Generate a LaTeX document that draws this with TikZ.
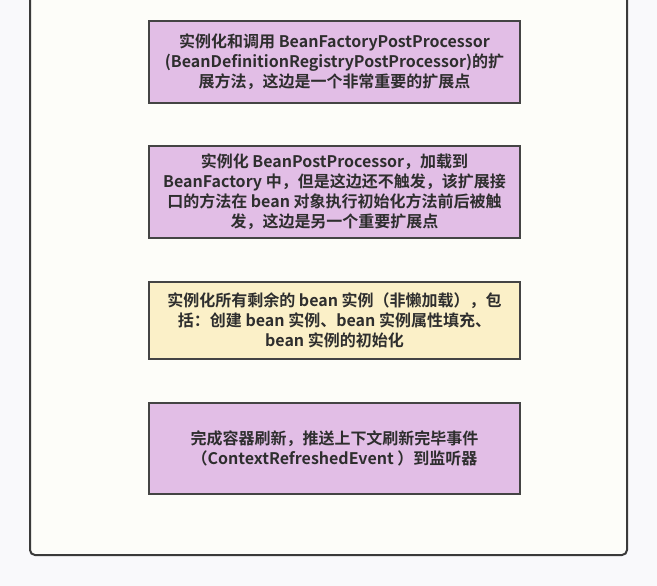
\documentclass[tikz,border=0pt]{standalone}
\usepackage{fontspec}
\setmainfont{Noto Sans CJK SC}[BoldFont={Noto Sans CJK SC Bold}]
\definecolor{pagebg}{HTML}{F9F9FB}
\definecolor{framebg}{HTML}{FDFDF9}
\definecolor{frameline}{HTML}{3A3A3A}
\definecolor{purplefill}{HTML}{E2BEE6}
\definecolor{yellowfill}{HTML}{FBF0C8}
\definecolor{boxline}{HTML}{444444}
\definecolor{textcol}{HTML}{2E2E2E}
\begin{document}
\begin{tikzpicture}[x=1pt,y=-1pt,
  stepbox/.style={draw=boxline, line width=2pt, minimum width=371pt, inner sep=0pt,
    text=textcol, align=center, font=\bfseries\fontsize{16}{20}\selectfont},
  purplebox/.style={stepbox, fill=purplefill},
  yellowbox/.style={stepbox, fill=yellowfill}]
\useasboundingbox (0,0) rectangle (657,586);
\clip (0,0) rectangle (657,586);
\fill[pagebg] (0,0) rectangle (657,586);
\draw[frameline, fill=framebg, line width=2pt, rounded corners=5pt] (30,-20) rectangle (627,555);
\node[purplebox, minimum height=82pt] (b1) at (334.5,62) {实例化和调用 BeanFactoryPostProcessor\\(BeanDefinitionRegistryPostProcessor)的扩\\展方法，这边是一个非常重要的扩展点};
\node[purplebox, minimum height=92pt] (b2) at (334.5,192) {实例化 BeanPostProcessor，加载到\\BeanFactory 中，但是这边还不触发，该扩展接\\口的方法在 bean 对象执行初始化方法前后被触\\发，这边是另一个重要扩展点};
\node[yellowbox, minimum height=77pt] (b3) at (334.5,320.5) {实例化所有剩余的 bean 实例（非懒加载），包\\括：创建 bean 实例、bean 实例属性填充、\\bean 实例的初始化};
\node[purplebox, minimum height=91pt] (b4) at (334.5,448.5) {完成容器刷新，推送上下文刷新完毕事件\\（ContextRefreshedEvent ）到监听器};
\end{tikzpicture}
\end{document}
